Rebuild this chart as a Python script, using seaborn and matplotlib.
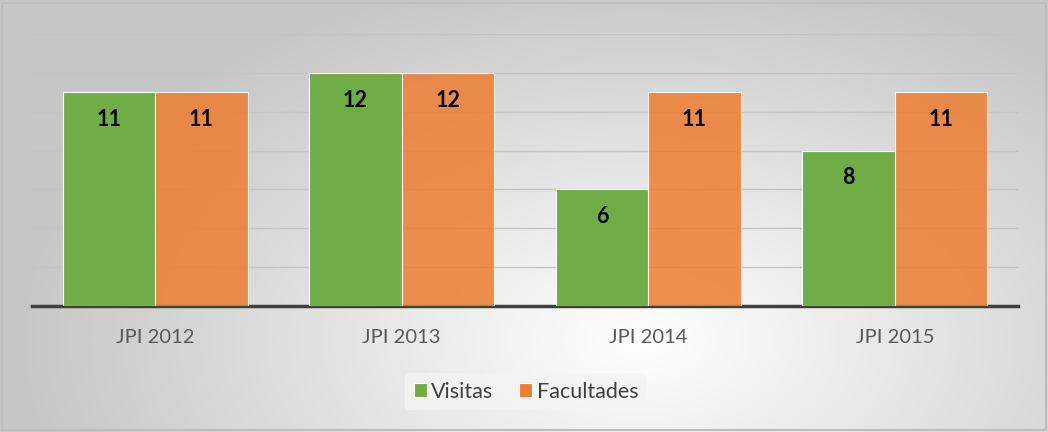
import numpy as np
import pandas as pd
import matplotlib
matplotlib.use("Agg")
import matplotlib.pyplot as plt
import seaborn as sns

# dados
anos = ["JPI 2012", "JPI 2013", "JPI 2014", "JPI 2015"]
visitas = [11, 12, 6, 8]
facultades = [11, 12, 11, 11]

tabela = pd.DataFrame({
    "ano": anos * 2,
    "valor": visitas + facultades,
    "serie": ["Visitas"] * len(anos) + ["Facultades"] * len(anos),
})

sns.set_style("white")
plt.rcParams["font.family"] = ["Lato", "DejaVu Sans"]

fig = plt.figure(figsize=(10.48, 4.32), dpi=100)

# fundo com gradiente radial
fundo = fig.add_axes([0, 0, 1, 1], zorder=-1)
yy, xx = np.mgrid[0:432, 0:1048]
d = np.sqrt(((xx - 640) / 700.0) ** 2 + ((yy - 340) / 420.0) ** 2)
g = np.clip(1.0 - 0.25 * d, 0.78, 1.0)
fundo.imshow(np.dstack([g, g, g]), extent=[0, 1, 0, 1], aspect="auto", origin="upper")
fundo.add_patch(plt.Rectangle((0.002, 0.004), 0.996, 0.988, fill=False,
                              edgecolor="#BDBDBD", linewidth=1.5))
fundo.set_axis_off()

ax = fig.add_axes([0.0305, 0.2917, 0.9409, 0.6296])
ax.set_facecolor("none")

cores = {"Visitas": "#70AD47", "Facultades": "#ED7D31"}
sns.barplot(data=tabela, x="ano", y="valor", hue="serie", palette=cores,
            width=0.75, edgecolor="white", linewidth=0.8, saturation=1,
            ax=ax, zorder=3)

for p in ax.containers[1]:
    p.set_alpha(0.85)

for cont in ax.containers:
    for p in cont:
        h = p.get_height()
        ax.text(p.get_x() + p.get_width() / 2, h - 1.4, f"{int(h)}",
                ha="center", va="center", fontsize=15.5, fontweight="bold",
                color="black", zorder=5)

ax.set_ylim(0, 14)
ax.set_xlim(-0.5, 3.5)
ax.set_yticks(range(2, 15, 2))
ax.yaxis.grid(True, color="#C4C4C4", linewidth=1.0, zorder=0)
ax.set_axisbelow(True)
ax.tick_params(axis="y", left=False, labelleft=False)
ax.tick_params(axis="x", bottom=False, labelsize=14.5, labelcolor="#595959", pad=13)
for s in ["top", "right", "left"]:
    ax.spines[s].set_visible(False)
ax.spines["bottom"].set_color("#404040")
ax.spines["bottom"].set_linewidth(2.5)
ax.set_xlabel("")
ax.set_ylabel("")

handles, labels = ax.get_legend_handles_labels()
ax.legend(handles, labels, loc="center", bbox_to_anchor=(0.502, 0.093),
          bbox_transform=fig.transFigure, ncol=2, frameon=True,
          facecolor="#F4F4F4", edgecolor="none", framealpha=0.8,
          fontsize=15.5, labelcolor="#404040", handlelength=0.6,
          handleheight=0.6, handletextpad=0.2, columnspacing=1.2,
          borderpad=0.4)

fig.savefig("out.png", dpi=100)
